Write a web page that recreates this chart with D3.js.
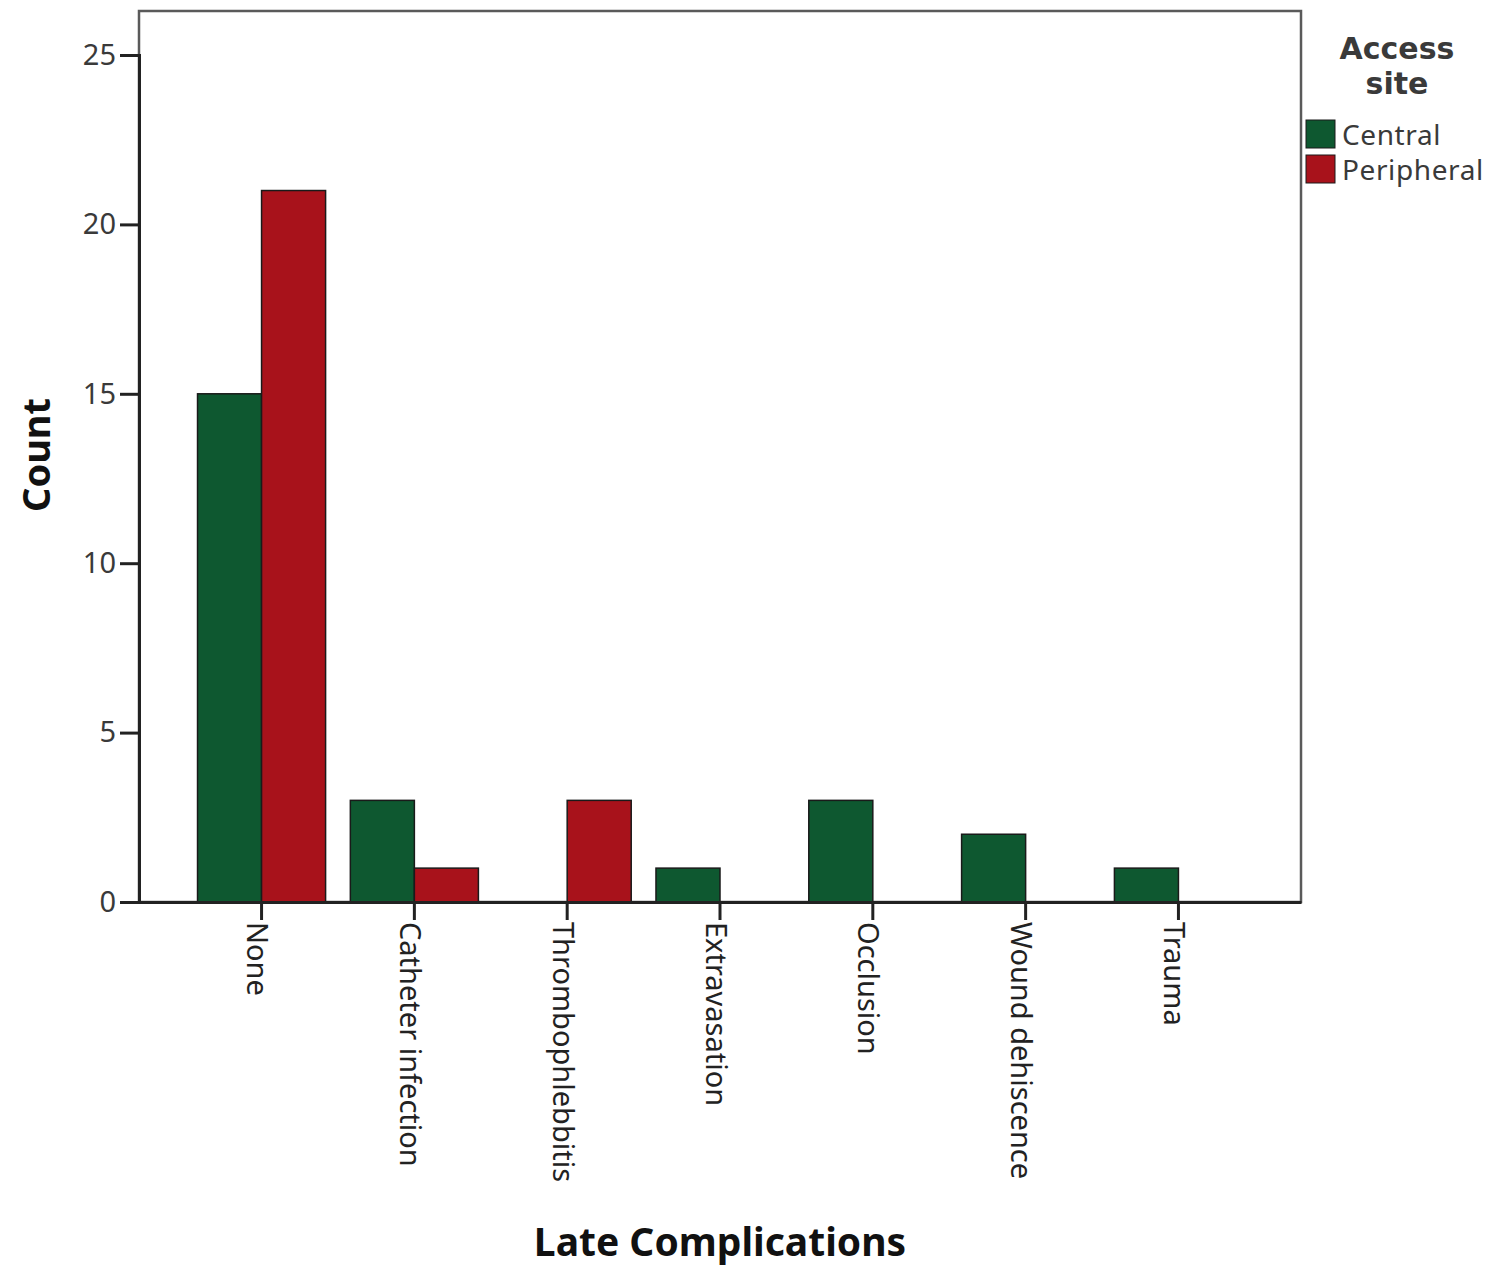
<!DOCTYPE html>
<html><head><meta charset="utf-8">
<script src="https://cdn.jsdelivr.net/npm/d3@7"></script>
<style>body{margin:0;background:#fff;} svg{display:block;}</style>
</head><body>
<script>
const categories = ["None","Catheter infection","Thrombophlebbitis","Extravasation","Occlusion","Wound dehiscence","Trauma"];
const seriesNames = ["Central","Peripheral"];
const central = [15,3,0,1,3,2,1];
const peripheral = [21,1,3,0,0,0,0];
const yTicks = [0,5,10,15,20,25];

(function(){
const W = 1496, H = 1271;
const pL = 139, pR = 1301, pT = 11, pB = 902;
const font = "'Noto Sans', sans-serif";
const titleFont = "'DejaVu Sans', sans-serif";
const colors = {Central:"#0e5830", Peripheral:"#a8121b"};

const svg = d3.select("body").append("svg").attr("width",W).attr("height",H);

const y = d3.scaleLinear().domain([0,25]).range([pB, 55]);
const x0 = d3.scaleBand().domain(categories).range([pL,pR]).paddingInner(0.162).paddingOuter(0.383);
const x1 = d3.scaleBand().domain(seriesNames).range([0,x0.bandwidth()]);

// frame
svg.append("rect").attr("x",pL).attr("y",pT).attr("width",pR-pL).attr("height",pB-pT)
  .attr("fill","none").attr("stroke","#5a5a5a").attr("stroke-width",2.5);

const data = categories.map((c,i)=>({cat:c, vals:[{k:"Central",v:central[i]},{k:"Peripheral",v:peripheral[i]}]}));
const g = svg.append("g");
g.selectAll("g.cat").data(data).join("g").attr("class","cat")
 .attr("transform",d=>`translate(${x0(d.cat)},0)`)
 .selectAll("rect").data(d=>d.vals.filter(e=>e.v>0)).join("rect")
 .attr("x",d=>x1(d.k)).attr("width",x1.bandwidth())
 .attr("y",d=>y(d.v)).attr("height",d=>y(0)-y(d.v))
 .attr("fill",d=>colors[d.k]).attr("stroke","#1a1a1a").attr("stroke-width",1.5);

// y axis
const ya = svg.append("g").attr("transform",`translate(${pL},0)`)
  .call(d3.axisLeft(y).tickValues(yTicks).tickSize(19).tickPadding(4));
ya.select(".domain").attr("stroke","#222").attr("stroke-width",3);
ya.selectAll(".tick line").attr("stroke","#222").attr("stroke-width",3);
ya.selectAll(".tick text").attr("font-family",font).attr("font-size",29).attr("fill","#3a3a3a");

// x axis
const xa = svg.append("g").attr("transform",`translate(0,${pB})`)
  .call(d3.axisBottom(x0).tickSize(18).tickSizeOuter(0));
xa.select(".domain").attr("stroke","#222").attr("stroke-width",3);
xa.selectAll(".tick line").attr("stroke","#222").attr("stroke-width",3);
xa.selectAll(".tick text").attr("font-family",font).attr("font-size",29).attr("fill","#222")
  .attr("transform","rotate(90)").attr("text-anchor","start").attr("dy","0.5em").attr("dx","0").attr("x",20).attr("y",0);

// axis titles
svg.append("text").attr("transform","translate(50,455) rotate(-90)").attr("text-anchor","middle")
  .attr("font-family",font).attr("font-weight","bold").attr("font-size",38).attr("fill","#111").text("Count");
svg.append("text").attr("x",720).attr("y",1256).attr("text-anchor","middle")
  .attr("font-family",font).attr("font-weight","bold").attr("font-size",39).attr("fill","#111").text("Late Complications");

// legend
const lg = svg.append("g");
lg.append("text").attr("x",1397).attr("y",59).attr("text-anchor","middle").attr("font-family",titleFont)
  .attr("font-weight","bold").attr("font-size",30).attr("fill","#3a3a3a").text("Access");
lg.append("text").attr("x",1397).attr("y",94).attr("text-anchor","middle").attr("font-family",titleFont)
  .attr("font-weight","bold").attr("font-size",30).attr("fill","#3a3a3a").text("site");
seriesNames.forEach((s,i)=>{
  lg.append("rect").attr("x",1306).attr("y",120+i*35).attr("width",29).attr("height",28)
    .attr("fill",colors[s]).attr("stroke","#1a1a1a").attr("stroke-width",1);
  lg.append("text").attr("x",1342).attr("y",145+i*35).attr("font-family",font).attr("font-size",28)
    .attr("letter-spacing","0.6px").attr("fill","#3a3a3a").text(s);
});
})();
</script>
</body></html>
